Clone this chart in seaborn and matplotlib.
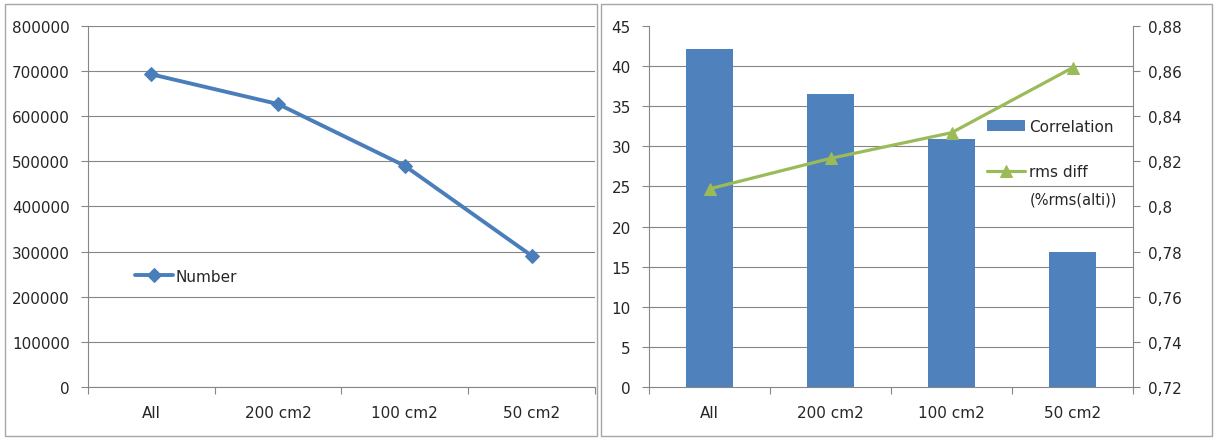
import numpy as np
import matplotlib
matplotlib.use("Agg")
import matplotlib.pyplot as plt
from matplotlib.patches import Rectangle
import seaborn as sns

# Data
categories = ["All", "200 cm2", "100 cm2", "50 cm2"]
number = [693000, 627000, 490000, 291000]
correlation = [0.87, 0.85, 0.83, 0.78]
rms_diff = [24.7, 28.5, 31.7, 39.8]

number_ticks = [0, 100000, 200000, 300000, 400000, 500000, 600000, 700000, 800000]
corr_ticks = [0.72, 0.74, 0.76, 0.78, 0.80, 0.82, 0.84, 0.86, 0.88]
rms_ticks = [0, 5, 10, 15, 20, 25, 30, 35, 40, 45]

BLUE_LINE = "#4A7EBB"
BLUE_BAR = "#4F81BD"
GREEN = "#9BBB59"
GRID = "#868686"
TEXT = "#262626"
BORDER = "#A6A6A6"
FS = 11

sns.set_theme(style="white")
plt.rcParams["font.family"] = ["DejaVu Sans"]
plt.rcParams["text.color"] = TEXT
plt.rcParams["xtick.color"] = GRID
plt.rcParams["ytick.color"] = GRID
plt.rcParams["xtick.labelcolor"] = TEXT
plt.rcParams["ytick.labelcolor"] = TEXT

fig = plt.figure(figsize=(12.15, 4.39), dpi=100)

# Chart-area frames around each panel
fig.add_artist(Rectangle((5 / 1215, 2 / 439), 592 / 1215, 432 / 439,
                         transform=fig.transFigure, fill=False,
                         edgecolor=BORDER, linewidth=1.0))
fig.add_artist(Rectangle((601 / 1215, 2 / 439), 611 / 1215, 432 / 439,
                         transform=fig.transFigure, fill=False,
                         edgecolor=BORDER, linewidth=1.0))


def category_axis(ax):
    ax.set_xlim(-0.5, len(categories) - 0.5)
    ax.set_xticks(range(len(categories)))
    ax.set_xticklabels(categories, fontsize=FS)
    ax.set_xticks(np.arange(-0.5, len(categories), 1.0), minor=True)
    ax.tick_params(axis="x", which="major", length=0, pad=13, bottom=True)
    ax.tick_params(axis="x", which="minor", length=5, width=0.8,
                   direction="out", bottom=True, color=GRID)
    ax.set_xlabel("")


# ---- Left panel: number of points ----
ax1 = fig.add_axes([0.0724, 0.1162, 0.4173, 0.8223])
sns.lineplot(x=categories, y=number, ax=ax1, sort=False, color=BLUE_LINE,
             linewidth=2.8, marker="D", markersize=7,
             markeredgecolor=BLUE_LINE, label="Number")
category_axis(ax1)
ax1.set_ylim(0, 800000)
ax1.set_yticks(number_ticks)
ax1.set_yticklabels([str(v) for v in number_ticks], fontsize=FS)
ax1.tick_params(axis="y", left=True, length=5, width=0.8, direction="out",
                pad=8, color=GRID)
ax1.set_ylabel("")
ax1.grid(axis="y", color=GRID, linewidth=0.8)
ax1.grid(axis="x", visible=False)
for side in ("top", "right"):
    ax1.spines[side].set_visible(False)
for side in ("left", "bottom"):
    ax1.spines[side].set_color(GRID)
    ax1.spines[side].set_linewidth(0.8)
ax1.legend(loc="center left", bbox_to_anchor=(0.08, 0.307), frameon=False,
           fontsize=FS, handlelength=2.5, handletextpad=0.2, borderaxespad=0)

# ---- Right panel: correlation bars (right scale) + rms diff line (left scale) ----
ax2 = fig.add_axes([0.5342, 0.1162, 0.3984, 0.8223])
sns.barplot(x=categories, y=correlation, ax=ax2, color=BLUE_BAR,
            saturation=1, width=0.39, linewidth=0, label="Correlation")
ax3 = ax2.twinx()
sns.lineplot(x=categories, y=rms_diff, ax=ax3, sort=False, color=GREEN,
             linewidth=2.3, marker="^", markersize=8.5,
             markeredgecolor=GREEN, label="rms diff")

category_axis(ax2)

# correlation scale on the right
ax2.yaxis.tick_right()
ax2.yaxis.set_label_position("right")
ax2.set_ylim(corr_ticks[0], corr_ticks[-1])
ax2.set_yticks(corr_ticks)
ax2.set_yticklabels([f"{v:g}".replace(".", ",") for v in corr_ticks],
                    fontsize=FS)
ax2.tick_params(axis="y", which="major", left=False, right=True,
                labelleft=False, labelright=True, length=5, width=0.8,
                direction="out", pad=6, color=GRID)
# horizontal grid follows the rms scale, drawn beneath the bars
grid_pos = np.interp(rms_ticks, [rms_ticks[0], rms_ticks[-1]],
                     [corr_ticks[0], corr_ticks[-1]])
ax2.set_yticks(grid_pos, minor=True)
ax2.tick_params(axis="y", which="minor", length=0, left=False, right=False,
                labelleft=False, labelright=False)
ax2.set_axisbelow(True)
ax2.grid(False)
ax2.grid(axis="y", which="minor", color=GRID, linewidth=0.8)
ax2.set_ylabel("")
for side in ("top", "left"):
    ax2.spines[side].set_visible(False)
for side in ("right", "bottom"):
    ax2.spines[side].set_color(GRID)
    ax2.spines[side].set_linewidth(0.8)

# rms diff scale on the left
ax3.yaxis.tick_left()
ax3.yaxis.set_label_position("left")
ax3.set_ylim(rms_ticks[0], rms_ticks[-1])
ax3.set_yticks(rms_ticks)
ax3.set_yticklabels([str(v) for v in rms_ticks], fontsize=FS)
ax3.tick_params(axis="y", left=True, right=False, labelleft=True,
                labelright=False, length=5, width=0.8,
                direction="out", pad=8, color=GRID)
ax3.grid(False)
ax3.set_ylabel("")
for side in ("top", "right", "bottom"):
    ax3.spines[side].set_visible(False)
ax3.spines["left"].set_visible(True)
ax3.spines["left"].set_color(GRID)
ax3.spines["left"].set_linewidth(0.8)

h2, l2 = ax2.get_legend_handles_labels()
h3, l3 = ax3.get_legend_handles_labels()
if ax2.get_legend() is not None:
    ax2.get_legend().remove()
ax3.legend(h2 + h3, l2 + l3, loc="upper left", bbox_to_anchor=(0.685, 0.76),
           frameon=False, fontsize=FS, handlelength=2.5, handletextpad=0.25,
           labelspacing=2.0, borderaxespad=0)
ax3.text(0.787, 0.52, "(%rms(alti))", transform=ax3.transAxes,
         fontsize=FS - 0.5, va="center", ha="left", color=TEXT)

fig.savefig("out.png", dpi=100)
